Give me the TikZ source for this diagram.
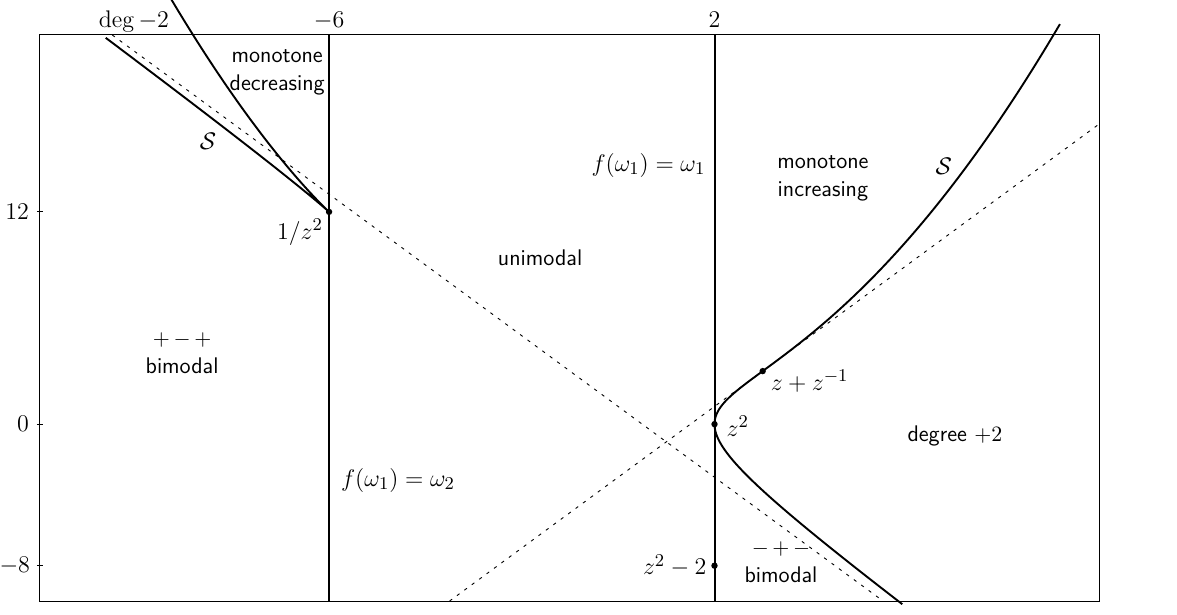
\documentclass[tikz,border=0pt]{standalone}
\begin{document}
\begin{tikzpicture}[x=24.09pt,y=8.845pt,
  font=\fontsize{12.5}{15}\selectfont,
  frame/.style={line width=0.5pt},
  wall/.style={line width=1pt},
  curve/.style={line width=0.95pt},
  guide/.style={line width=0.45pt,dash pattern=on 1.6pt off 3pt},
  region/.style={font=\fontsize{11.3}{14}\sffamily\selectfont,align=center,inner sep=1pt},
  lab/.style={inner sep=1pt},
  tick/.style={anchor=east,inner sep=0pt,font=\fontsize{11.5}{14}\selectfont},
  pt/.style={circle,fill=black,inner sep=0pt,minimum size=3.2pt}]
\useasboundingbox (-12.830,-10.735) rectangle (11.599,23.978);
% frame
\draw[frame] (-12,-10) rectangle (10,22);
\foreach \v in {12,0,-8}{\draw[frame] (-12.065,\v) -- (-11.935,\v);}
\node[tick] (l12) at (-12.22,12) {$12$};
\node[tick] (l0) at (-12.22,0) {$0$};
\node[tick] (lm8) at (-12.2,-8) {$-8$};
\node[anchor=base,inner sep=0pt] (lm6) at (-6,22.42) {$-6$};
\node[anchor=base,inner sep=0pt] (l2) at (2,22.42) {$2$};
\node[anchor=base,inner sep=0pt] (ldeg) at (-10.05,22.42) {$\deg -2$};
% vertical lines
\draw[wall] (-6,-10) -- (-6,22);
\draw[wall] (2,-10) -- (2,22);
% dashed lines
\draw[guide] (-10.5,22) -- (5.5,-10);
\draw[guide] (-3.5,-10) -- (10,17);
% symmetry locus
\draw[curve] plot[domain=-1.68:-0.12,samples=240,variable=\k,smooth]
  ({1/\k+4*\k-2},{4*\k*\k-4*\k+5-2/\k});
\draw[curve] plot[domain=0.136:2.7,samples=240,variable=\k,smooth]
  ({1/\k+4*\k-2},{4*\k*\k-4*\k+5-2/\k});
% points
\node[pt] (p1) at (-6,12) {};
\node[pt] (p2) at (2,0) {};
\node[pt] (p3) at (3,3) {};
\node[pt] (p4) at (2,-8) {};
% labels
\node[region,anchor=east] (mdec) at (-6.04,19.87) {monotone\\decreasing};
\node[lab] (sl) at (-8.51,16.0) {$\mathcal{S}$};
\node[lab,anchor=east] (iz) at (-6.08,10.85) {$1/z^2$};
\node[lab,anchor=east] (fw1) at (1.86,14.64) {$f(\omega_1)=\omega_1$};
\node[region] (minc) at (4.25,13.88) {monotone\\increasing};
\node[lab] (sr) at (6.76,14.58) {$\mathcal{S}$};
\node[region] (uni) at (-1.62,9.38) {unimodal};
\node[region] (bil) at (-9.05,4.01) {${+}\,{-}\,{+}$\\bimodal};
\node[lab,anchor=west] (fw2) at (-5.8,-3.17) {$f(\omega_1)=\omega_2$};
\node[lab,anchor=west] (zz) at (3.12,2.43) {$z+z^{-1}$};
\node[lab,anchor=west] (z2) at (2.2,-0.1) {$z^2$};
\node[region] (deg) at (6.99,-0.68) {degree $+2$};
\node[region] (bir) at (3.38,-7.83) {${-}\,{+}\,{-}$\\bimodal};
\node[lab,anchor=east] (z2m) at (1.88,-8.0) {$z^2-2$};
\end{tikzpicture}
\end{document}
